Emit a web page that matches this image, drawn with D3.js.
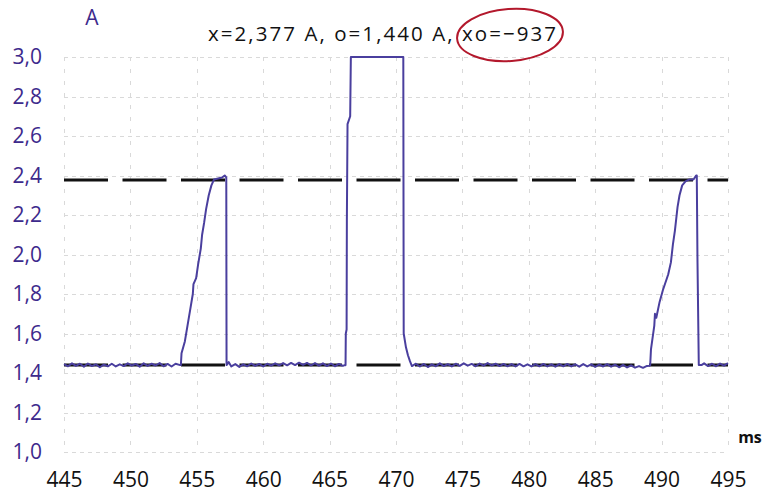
<!DOCTYPE html>
<html>
<head>
<meta charset="utf-8">
<script src="https://cdn.jsdelivr.net/npm/d3@7"></script>
<style>
  body { margin: 0; background: #fff; }
  svg { display: block; font-family: "Open Sans", Lato, sans-serif; }
</style>
</head>
<body>
<div id="chart"></div>
<script>
// Current trace: [ms, A]
const signal = [
  [445.0, 1.445], [445.3, 1.434], [445.6, 1.449], [445.9, 1.436], [446.2, 1.447], [446.5, 1.432],
  [446.8, 1.448], [447.1, 1.435], [447.4, 1.444], [447.7, 1.429], [448.0, 1.442], [448.3, 1.434],
  [448.6, 1.447], [448.9, 1.433], [449.2, 1.444], [449.5, 1.435], [449.8, 1.449], [450.1, 1.437],
  [450.4, 1.446], [450.7, 1.432], [451.0, 1.449], [451.3, 1.436], [451.6, 1.447], [451.9, 1.438],
  [452.2, 1.450], [452.5, 1.434], [452.8, 1.446], [453.1, 1.433], [453.4, 1.447], [453.75, 1.440],
  // first ramp
  [453.8, 1.44], [453.85, 1.50], [454.1, 1.56], [454.3, 1.64], [454.5, 1.72], [454.7, 1.80],
  [454.75, 1.85], [454.95, 1.88], [455.1, 1.95], [455.3, 2.03], [455.4, 2.10], [455.55, 2.16],
  [455.7, 2.23], [455.9, 2.30], [456.1, 2.35], [456.3, 2.38], [456.6, 2.385], [456.9, 2.39],
  [457.1, 2.40], [457.22, 2.39], [457.24, 1.44],
  [457.4, 1.455], [457.6, 1.433], [457.9, 1.445], [458.2, 1.431], [458.5, 1.444], [458.8, 1.434],
  [459.1, 1.448], [459.4, 1.436], [459.7, 1.446], [460.0, 1.433], [460.3, 1.447], [460.6, 1.437],
  [460.9, 1.449], [461.2, 1.438], [461.5, 1.450], [461.8, 1.439], [462.1, 1.451], [462.4, 1.440],
  [462.7, 1.452], [463.0, 1.441], [463.3, 1.451], [463.6, 1.438], [463.9, 1.450], [464.2, 1.437],
  [464.5, 1.449], [464.8, 1.435], [465.1, 1.448], [465.4, 1.434], [465.7, 1.446], [466.0, 1.436],
  [466.18, 1.441],
  // clipped pulse
  [466.2, 1.44], [466.22, 1.60], [466.28, 1.62], [466.30, 2.17], [466.35, 2.66], [466.55, 2.70],
  [466.6, 3.0], [470.55, 3.0], [470.58, 1.60], [470.75, 1.53], [470.9, 1.49], [471.05, 1.46],
  [471.2, 1.435],
  [471.5, 1.447], [471.8, 1.433], [472.1, 1.446], [472.4, 1.430], [472.7, 1.444], [473.0, 1.434],
  [473.3, 1.449], [473.6, 1.435], [473.9, 1.445], [474.2, 1.433], [474.5, 1.447], [474.8, 1.436],
  [475.1, 1.449], [475.4, 1.437], [475.7, 1.446], [476.0, 1.434], [476.3, 1.448], [476.6, 1.437],
  [476.9, 1.450], [477.2, 1.438], [477.5, 1.447], [477.8, 1.435], [478.1, 1.446], [478.4, 1.434],
  [478.7, 1.445], [479.0, 1.433], [479.3, 1.446], [479.6, 1.434], [479.9, 1.444], [480.2, 1.433],
  [480.5, 1.445], [480.8, 1.434], [481.1, 1.446], [481.4, 1.433], [481.7, 1.444], [482.0, 1.432],
  [482.3, 1.445], [482.6, 1.434], [482.9, 1.446], [483.2, 1.433], [483.5, 1.444], [483.8, 1.432],
  [484.1, 1.445], [484.4, 1.433], [484.7, 1.444], [485.0, 1.431], [485.3, 1.443], [485.6, 1.433],
  [485.9, 1.445], [486.2, 1.432], [486.5, 1.442], [486.8, 1.429], [487.1, 1.441], [487.4, 1.428],
  [487.7, 1.439], [488.0, 1.427], [488.3, 1.435], [488.6, 1.426], [488.9, 1.436], [489.1, 1.437],
  // last ramp
  [489.14, 1.44], [489.2, 1.52], [489.45, 1.64], [489.5, 1.70], [489.6, 1.68], [489.85, 1.76],
  [490.1, 1.82], [490.4, 1.88], [490.5, 1.90], [490.7, 1.96], [490.85, 2.05], [491.0, 2.12],
  [491.2, 2.24], [491.35, 2.30], [491.55, 2.35], [491.8, 2.37], [492.1, 2.38], [492.4, 2.38],
  [492.6, 2.40], [492.65, 2.40], [492.70, 1.98], [492.80, 1.44],
  [493.0, 1.44], [493.2, 1.449], [493.5, 1.435], [493.8, 1.447], [494.1, 1.434], [494.4, 1.448],
  [494.7, 1.437], [495.0, 1.450]
];

const xTicks = [445, 450, 455, 460, 465, 470, 475, 480, 485, 490, 495];
const yTicks = [1.0, 1.2, 1.4, 1.6, 1.8, 2.0, 2.2, 2.4, 2.6, 2.8, 3.0];
const cursorLevels = [2.377, 1.440];
const titleText = 'x=2,377 A, o=1,440 A, xo=\u2212937';

const width = 763, height = 498;

const x = d3.scaleLinear().domain([445, 495]).range([64, 728]);
const y = d3.scaleLinear().domain([1, 3]).range([452, 57]);

const fmt = v => d3.format('.1f')(v).replace('.', ',');

const svg = d3.select('#chart').append('svg')
  .attr('width', width)
  .attr('height', height);

// grid
const grid = svg.append('g')
  .attr('stroke', '#d9d9d9')
  .attr('stroke-width', 1);

grid.selectAll('line.h')
  .data(yTicks)
  .join('line')
  .attr('class', 'h')
  .attr('x1', x(445)).attr('x2', x(495))
  .attr('y1', d => Math.round(y(d)) + 0.5)
  .attr('y2', d => Math.round(y(d)) + 0.5)
  .attr('stroke-dasharray', '4,4');

grid.selectAll('line.v')
  .data(xTicks)
  .join('line')
  .attr('class', 'v')
  .attr('y1', y(3)).attr('y2', y(1))
  .attr('x1', d => Math.round(x(d)) + 0.5)
  .attr('x2', d => Math.round(x(d)) + 0.5)
  .attr('stroke-dasharray', '4,8');

// cursor lines
svg.append('g')
  .selectAll('line')
  .data(cursorLevels)
  .join('line')
  .attr('x1', x(445)).attr('x2', x(495))
  .attr('y1', d => y(d)).attr('y2', d => y(d))
  .attr('stroke', '#111')
  .attr('stroke-width', 3)
  .attr('stroke-dasharray', '44,14.5');

// trace
const line = d3.line()
  .x(d => x(d[0]))
  .y(d => y(d[1]));

svg.append('path')
  .datum(signal)
  .attr('fill', 'none')
  .attr('stroke', '#4a3f9e')
  .attr('stroke-width', 2)
  .attr('stroke-linejoin', 'round')
  .attr('d', line);

// y axis labels
const yAxis = d3.axisLeft(y)
  .tickValues(yTicks)
  .tickFormat(fmt)
  .tickSize(0)
  .tickPadding(0);

svg.append('g')
  .attr('transform', 'translate(42,0)')
  .call(yAxis)
  .call(g => g.select('.domain').remove())
  .call(g => g.selectAll('text')
    .attr('fill', '#3d2a8c')
    .attr('font-size', 21)
    .attr('font-family', '"Open Sans", sans-serif'));

// x axis labels
const xAxis = d3.axisBottom(x)
  .tickValues(xTicks)
  .tickFormat(d3.format('d'))
  .tickSize(0)
  .tickPadding(0);

svg.append('g')
  .attr('transform', 'translate(0,472)')
  .call(xAxis)
  .call(g => g.select('.domain').remove())
  .call(g => g.selectAll('text')
    .attr('fill', '#111')
    .attr('font-size', 21)
    .attr('font-family', '"Open Sans", sans-serif'));

// unit labels
svg.append('text')
  .attr('x', 92).attr('y', 25)
  .attr('text-anchor', 'middle')
  .attr('fill', '#3d2a8c')
  .attr('font-size', 21)
  .text('A');

svg.append('text')
  .attr('x', 750).attr('y', 443)
  .attr('text-anchor', 'middle')
  .attr('fill', '#111')
  .attr('font-size', 16)
  .attr('font-weight', 'bold')
  .text('ms');

// title
svg.append('text')
  .attr('x', 382).attr('y', 41)
  .attr('text-anchor', 'middle')
  .attr('fill', '#111')
  .attr('font-size', 20.5)
  .attr('textLength', 348)
  .attr('lengthAdjust', 'spacing')
  .text(titleText);

// red ellipse around the xo value
svg.append('ellipse')
  .attr('cx', 510).attr('cy', 35)
  .attr('rx', 53).attr('ry', 26)
  .attr('transform', 'rotate(-4,510,35)')
  .attr('fill', 'none')
  .attr('stroke', '#b3182c')
  .attr('stroke-width', 2);
</script>
</body>
</html>
